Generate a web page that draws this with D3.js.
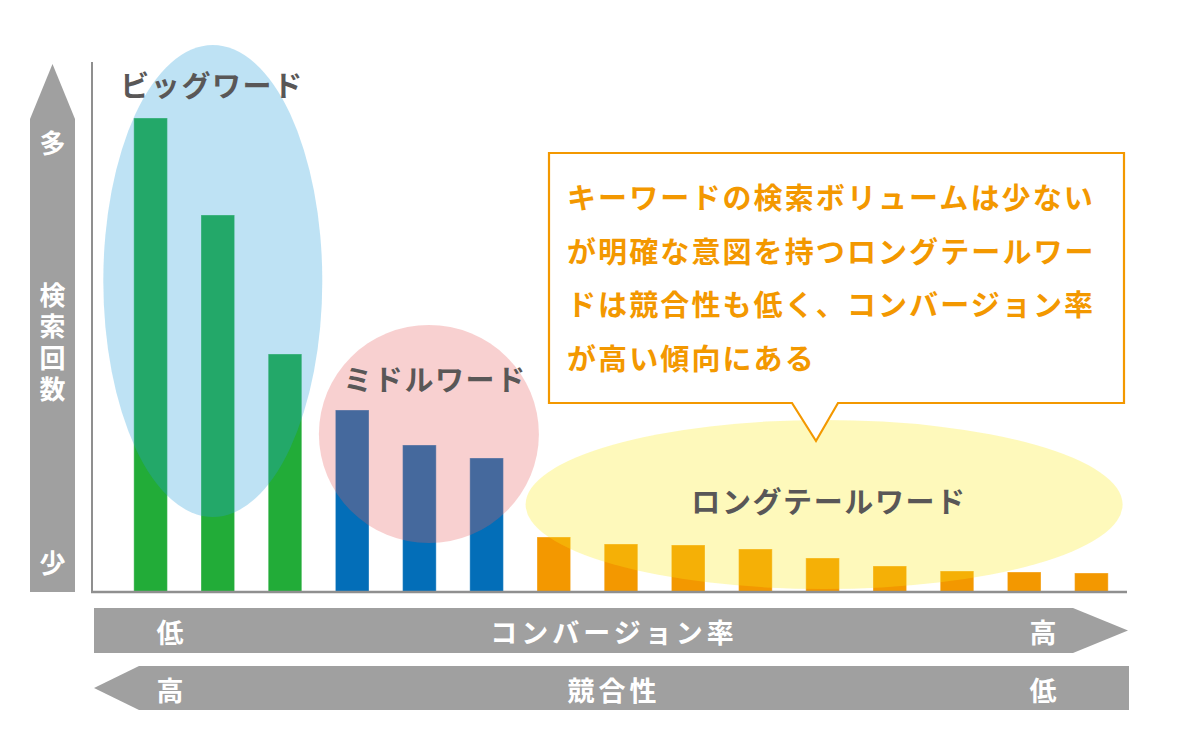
<!DOCTYPE html>
<html><head><meta charset="utf-8">
<script src="https://cdn.jsdelivr.net/npm/d3@7"></script>
<style>
html,body{margin:0;padding:0;background:#fff;}
svg{display:block;font-family:"Noto Sans CJK JP","Noto Sans",sans-serif;}
</style></head>
<body><svg id="c" width="1180" height="741"></svg>
<script>
// ---- data ----
const categories = ["B1","B2","B3","M1","M2","M3","L1","L2","L3","L4","L5","L6","L7","L8","L9"];
const groups     = ["big","big","big","middle","middle","middle","long","long","long","long","long","long","long","long","long"];
const searchVolume = [94.8, 75.4, 47.6, 36.4, 29.4, 26.8, 11.0, 9.6, 9.4, 8.6, 6.8, 5.2, 4.2, 4.0, 3.8];
const groupColors = {big:"#22AC38", middle:"#036EB8", long:"#F39800"};
const groupLabels = {big:"ビッグワード", middle:"ミドルワード", long:"ロングテールワード"};
const yAxisTexts = {top:"多", mid:"検索回数", bottom:"少"};
const cvrTexts = ["低","コンバージョン率","高"];
const compTexts = ["高","競合性","低"];
const calloutLines = ["キーワードの検索ボリュームは少ない","が明確な意図を持つロングテールワー","ドは競合性も低く、コンバージョン率","が高い傾向にある"];

const svg = d3.select("#c");
const gray = "#A0A0A0", textGray = "#595757";

const x = d3.scaleBand().domain(categories).range([117,1125]).paddingInner(0.5).paddingOuter(0.25);
const y = d3.scaleLinear().domain([0,100]).range([592,92]);

// axes lines
svg.append("line").attr("x1",92).attr("x2",92).attr("y1",62).attr("y2",593).attr("stroke","#8f8f8f").attr("stroke-width",2);

// bars
svg.append("g").selectAll("rect").data(searchVolume).join("rect")
  .attr("x",(d,i)=>x(categories[i]))
  .attr("width",x.bandwidth())
  .attr("y",d=>y(d))
  .attr("height",d=>y(0)-y(d))
  .attr("fill",(d,i)=>groupColors[groups[i]])
  .attr("stroke","#fff").attr("stroke-opacity",0.35).attr("stroke-width",1);

svg.append("line").attr("x1",91).attr("x2",1127).attr("y1",592).attr("y2",592).attr("stroke","#8f8f8f").attr("stroke-width",2.5);

// group ellipses (anchored on bar positions)
function span(g){
  const idx = groups.map((d,i)=>d===g?i:-1).filter(i=>i>=0);
  return {x0:x(categories[idx[0]]), x1:x(categories[idx[idx.length-1]])+x.bandwidth()};
}
const sb = span("big"), sm = span("middle"), sl = span("long");
const ell = [
  {cx:(sb.x0+sb.x1)/2-5, cy:281, rx:109.5, ry:236, fill:"rgb(39,160,219)", op:0.3},
  {cx:(sm.x0+sm.x1)/2+9.5, cy:434, rx:110, ry:109, fill:"rgb(231,93,93)", op:0.29},
  {cx:(sl.x0+sl.x1)/2+1.5, cy:504.5, rx:298.5, ry:84.5, fill:"rgb(250,234,20)", op:0.29}
];
svg.append("g").selectAll("ellipse").data(ell).join("ellipse")
  .attr("cx",d=>d.cx).attr("cy",d=>d.cy).attr("rx",d=>d.rx).attr("ry",d=>d.ry)
  .attr("fill",d=>d.fill).attr("fill-opacity",d=>d.op);

// group labels
const lbl = [
  {t:groupLabels.big, x:212, y:84},
  {t:groupLabels.middle, x:435, y:378},
  {t:groupLabels.long, x:829, y:500}
];
svg.append("g").selectAll("text").data(lbl).join("text")
  .attr("x",d=>d.x).attr("y",d=>d.y).attr("text-anchor","middle").attr("dominant-baseline","central")
  .attr("font-size",29).attr("font-weight",700).attr("fill",textGray).attr("letter-spacing",1.6)
  .text(d=>d.t);

// callout
const bx0=549, bx1=1124, by0=153, by1=403, tx0=792, tx1=838, tipx=816, tipy=441;
svg.append("path")
  .attr("d",`M${bx0},${by0}H${bx1}V${by1}H${tx1}L${tipx},${tipy}L${tx0},${by1}H${bx0}Z`)
  .attr("fill","#fff").attr("stroke","#F39800").attr("stroke-width",2.2).attr("stroke-linejoin","miter");
svg.append("g").selectAll("text").data(calloutLines).join("text")
  .attr("x",567).attr("y",(d,i)=>196+i*53.7).attr("dominant-baseline","central")
  .attr("font-size",29).attr("font-weight",700).attr("fill","#F39800").attr("letter-spacing",2.1)
  .text(d=>d);

// left vertical arrow
svg.append("path").attr("d","M30,592V119L52.5,64L75,119V592Z").attr("fill",gray);
function wtext(sel){
  return sel.attr("fill","#fff").attr("font-weight",700).attr("font-size",26)
    .attr("text-anchor","middle").attr("dominant-baseline","central");
}
wtext(svg.append("text").attr("x",52.5).attr("y",141).text(yAxisTexts.top));
wtext(svg.append("text").attr("x",52.5).attr("y",561).text(yAxisTexts.bottom));
svg.append("text").attr("x",52.5).attr("y",282)
  .attr("writing-mode","vertical-rl").attr("glyph-orientation-vertical",0)
  .attr("fill","#fff").attr("font-weight",700).attr("font-size",26).attr("letter-spacing",5.5)
  .text(yAxisTexts.mid);

// bottom arrows
svg.append("path").attr("d","M94,608H1073L1128,630.5L1073,653H94Z").attr("fill",gray);
svg.append("path").attr("d","M1129,666H139L94,688L139,710H1129Z").attr("fill",gray);
const bxPos = [170, 612, 1043];
const ls = 4;
svg.append("g").selectAll("text").data(cvrTexts).join("text")
  .attr("x",(d,i)=>bxPos[i]+ls/2).attr("y",631)
  .attr("fill","#fff").attr("font-weight",700).attr("font-size",27).attr("letter-spacing",ls)
  .attr("text-anchor","middle").attr("dominant-baseline","central")
  .text(d=>d);
svg.append("g").selectAll("text").data(compTexts).join("text")
  .attr("x",(d,i)=>bxPos[i]+ls/2).attr("y",689)
  .attr("fill","#fff").attr("font-weight",700).attr("font-size",27).attr("letter-spacing",ls)
  .attr("text-anchor","middle").attr("dominant-baseline","central")
  .text(d=>d);
</script></body></html>
